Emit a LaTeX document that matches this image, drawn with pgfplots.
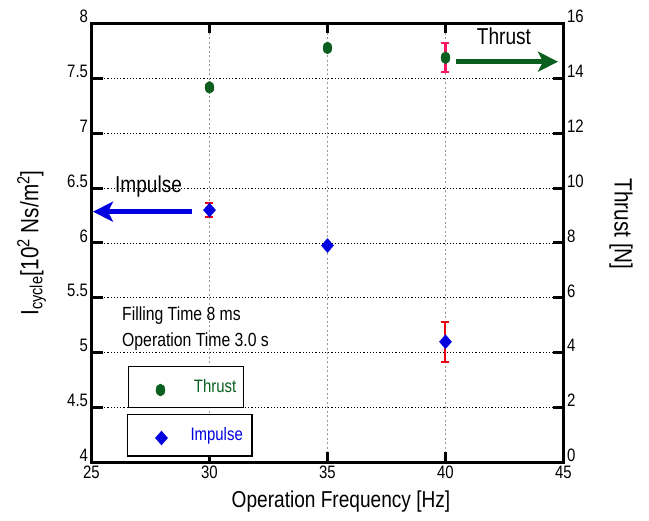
\documentclass[border=0pt]{standalone}
\usepackage{fontspec}
\setmainfont{Liberation Sans}[FakeStretch=0.83]
\usepackage{pgfplots}
\pgfplotsset{compat=1.18}
\usetikzlibrary{arrows.meta}
\definecolor{tgreen}{RGB}{10,95,30}
\definecolor{iblue}{RGB}{0,0,225}
\definecolor{ered}{RGB}{235,0,20}
\definecolor{epink}{RGB}{250,20,100}
\pgfplotsset{
 common/.style={
  scale only axis, width=472pt, height=439pt,
  xmin=25, xmax=45,
  axis line style={line width=3pt},
  tickwidth=10pt,
  tick align=inside,
  tick style={line width=3pt, draw=black},
  /pgf/number format/assume math mode=true,
  clip=false,
  every axis x label/.style={at={(axis description cs:0.5286,-0.09)},anchor=center,font=\fontsize{23}{26}\selectfont},
 },
}
\begin{document}
\begin{tikzpicture}
\begin{axis}[common,
  ymin=4, ymax=8, ytick={4,4.5,...,8}, xtick={25,30,...,45},
  xtick pos=both, ytick pos=left,
  grid=major,
  x grid style={gray!80, line width=0.9pt, dash pattern=on 2pt off 2.5pt},
  y grid style={black, line width=0.8pt, dash pattern=on 1.2pt off 2pt},
  xticklabel style={font=\fontsize{18}{20}\selectfont, anchor=north},
  yticklabel style={font=\fontsize{18}{20}\selectfont, anchor=east, yshift=7pt},
  xlabel={Operation Frequency [Hz]},
  every axis y label/.style={at={(axis description cs:-0.127,0.5)},anchor=center,rotate=90,font=\fontsize{25}{28}\selectfont},
  ylabel={I\textsubscript{cycle}[10\textsuperscript{2} Ns/m\textsuperscript{2}]},
  legend image code/.code={\path (-26pt,0pt); \draw[#1] plot coordinates {(0pt,-3pt)};},
  legend style={at={(axis description cs:0.0752,0.1105)}, anchor=north west, draw=black, line width=1.5pt, fill=white,
    font=\fontsize{18}{20}\selectfont, inner xsep=7pt, inner ysep=11pt, column sep=21pt},
]
\pgfplotsinvokeforeach{4.5,5,5.5,6,6.5,7,7.5}{
  \draw[black, line width=3pt] (axis cs:25,#1) -- ++(12pt,0pt);
  \draw[black, line width=3pt] (axis cs:45,#1) -- ++(-10pt,0pt);
}
\pgfplotsinvokeforeach{30,35,40}{
  \draw[black, line width=3pt] (axis cs:#1,4) -- ++(0pt,10pt);
  \draw[black, line width=3pt] (axis cs:#1,8) -- ++(0pt,-10pt);
}
\addplot[ered, forget plot, only marks, mark=none,
  error bars/.cd, y dir=both, y explicit,
  error bar style={ered, line width=2pt},
  error mark options={rotate=90, mark size=4pt, ered, line width=2pt}]
  coordinates {(30,6.30) +- (0,0.063) (40,5.10) +- (0,0.183)};
\addplot[only marks, mark=diamond*, mark size=7pt, color=iblue,
  mark options={xscale=1.15, line width=0.4pt, fill=iblue}]
  coordinates {(30,6.30) (35,5.977) (40,5.10)};
\addlegendentry{\textcolor{iblue}{Impulse}\hspace{5pt}}
\end{axis}
\begin{axis}[common,
  ymin=0, ymax=16, ytick={0,2,...,16},
  axis y line*=right, axis x line=none,
  yticklabel style={font=\fontsize{18}{20}\selectfont, anchor=west, yshift=7pt},
  every axis y label/.style={at={(axis description cs:1.122,0.543)},anchor=center,rotate=-90,font=\fontsize{25}{28}\selectfont},
  ylabel={Thrust [N]},
  legend image code/.code={\path (-26pt,0pt); \draw[#1] plot coordinates {(0pt,-3pt)};},
  legend style={at={(axis description cs:0.0773,0.2198)}, anchor=north west, draw=black, line width=1.5pt, fill=white,
    font=\fontsize{18}{20}\selectfont, inner xsep=5pt, inner ysep=11pt, column sep=27pt},
]
\addplot[epink, forget plot, only marks, mark=none,
  error bars/.cd, y dir=both, y explicit,
  error bar style={epink, line width=2pt},
  error mark options={rotate=90, mark size=4pt, epink, line width=2pt}]
  coordinates {(30,13.67) +- (0,0.1) (40,14.75) +- (0,0.53)};
\addplot[only marks, mark=*, mark size=6pt, color=tgreen,
  mark options={xscale=0.75, line width=0.4pt, fill=tgreen}]
  coordinates {(30,13.67) (35,15.11) (40,14.75)};
\addlegendentry{\textcolor{tgreen}{Thrust}\hspace{3pt}}
\end{axis}
\begin{scope}[shift={(-91.5pt,462.5pt)},x=1pt,y=-1pt]
\draw[iblue, line width=4.5pt, -{Stealth[length=20pt,width=20pt,inset=5pt]}] (192,211.7) -- (93,211.7);
\draw[tgreen, line width=4.5pt, -{Stealth[length=20pt,width=20pt,inset=5pt]}] (456,61.7) -- (558,61.7);
\node[anchor=base, font=\fontsize{23}{26}\selectfont, inner sep=0pt] at (148.5,193) {Impulse};
\node[anchor=base, font=\fontsize{23}{26}\selectfont, inner sep=0pt] at (504,45) {Thrust};
\node[anchor=base west, font=\fontsize{19}{22}\selectfont, inner sep=0pt] at (122,321) {Filling Time 8 ms};
\node[anchor=base west, font=\fontsize{19}{22}\selectfont, inner sep=0pt] at (122,347) {Operation Time 3.0 s};
\end{scope}
\pgfresetboundingbox
\path[use as bounding box] (-91.5pt,-58.5pt) rectangle (557.5pt,462.5pt);
\end{tikzpicture}
\end{document}
